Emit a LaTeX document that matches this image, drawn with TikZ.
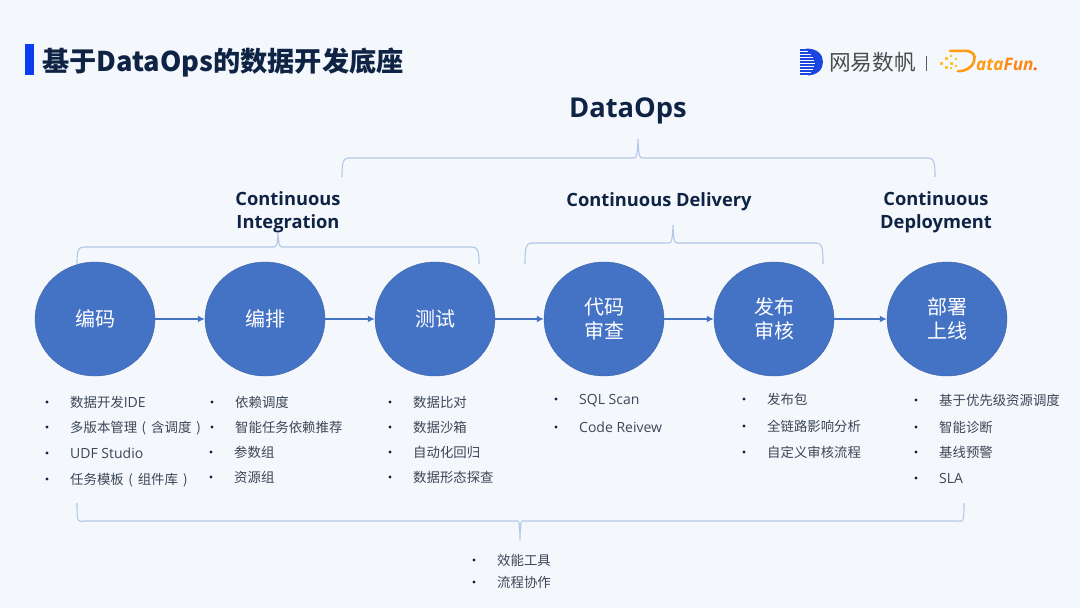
\documentclass[tikz,border=0pt]{standalone}
\usepackage{fontspec}
\setmainfont{Open Sans}
\newfontfamily\cjk{Noto Sans CJK SC}
\usetikzlibrary{arrows.meta,positioning,shapes.geometric}
\definecolor{bgc}{HTML}{F4F8FC}
\definecolor{navy}{HTML}{0F2345}
\definecolor{circ}{HTML}{4472C4}
\definecolor{brc}{HTML}{B4C7E7}
\definecolor{itemc}{HTML}{3C4658}
\definecolor{barc}{HTML}{0A3CF0}
\definecolor{logob}{HTML}{1A46E0}
\definecolor{dfa}{HTML}{FFC02A}
\definecolor{dfb}{HTML}{FF9A12}
\definecolor{dfc}{HTML}{FA5A1E}
\tikzset{
  stage/.style={ellipse,fill=circ,draw=circ!85!black,line width=.4pt,minimum width=120pt,minimum height=114pt,inner sep=0pt,text=white,font=\cjk\fontsize{20}{24}\selectfont,align=center},
  flow/.style={draw=circ,line width=2pt,-{Latex[length=7pt,width=7pt]}},
  brace/.style={draw=brc,line width=1.1pt},
  head/.style={text=navy,font=\bfseries\fontsize{18.3}{23}\selectfont,align=center,inner sep=0pt},
  item/.style={anchor=base west,text=itemc,inner sep=0pt,font=\cjk\fontsize{13.4}{16}\selectfont},
  dotm/.style={circle,fill=navy,inner sep=0pt,minimum size=3.4pt},
}
\newcommand{\lat}[1]{{\rmfamily\fontsize{14}{16}\selectfont #1}}
\newcommand{\itm}[5]{%
  \node[dotm] (b#1) at (#2,#4-5) {};
  \node[item] (t#1) at (#3,#4) {#5};}
\newcommand{\brc}[6]{%
  \draw[brace] (#1,#2) .. controls (#1,#3+4) and (#1+1,#3) .. (#1+7,#3) -- (#4-4,#3) .. controls (#4-1.5,#3) and (#4-0.5,#3-3) .. (#4,#5) .. controls (#4+0.5,#3-3) and (#4+1.5,#3) .. (#4+4,#3) -- (#6-7,#3) .. controls (#6-1,#3) and (#6,#3+4) .. (#6,#2);}
\begin{document}
\begin{tikzpicture}[x=1pt,y=-1pt]
\fill[bgc] (0,0) rectangle (1080,608);
\useasboundingbox (0,0) rectangle (1080,608);
% title
\fill[barc] (25,44) rectangle (33.5,74.5);
\node[anchor=base west,inner sep=0pt,text=navy,font=\cjk\bfseries\fontsize{27.2}{30}\selectfont] (title) at (42,71) {基于DataOps的数据开发底座};
% logo
\fill[logob] (806,48.5) .. controls (818,48.5) and (823,55) .. (823,62) .. controls (823,69) and (818,75.5) .. (806,75.5) -- cycle;
\foreach \yy/\xb in {50/808,53/811,56/813,59/814,62/815,65/814,68/813,71/811,74/808}{
  \draw[white,line width=.8pt] (800,\yy+1.4) -- (\xb,\yy+1.4);
  \draw[logob,line width=1.5pt] (800,\yy) -- (\xb-2,\yy);}
\node[anchor=base west,inner sep=0pt,text=black!70,font=\cjk\fontsize{21.7}{24}\selectfont] (nete) at (829,70) {网易数帆};
\draw[black!65,line width=1pt] (926,56) -- (926,71);
\foreach \xx/\yy/\ss in {940/61.5/3,945/57/3,945/66/3,950/54.5/2.4,950/61.5/3.4,950/67/2.4,955/58/2.4,955/65/2.4}
  \fill[dfa] (\xx,\yy) rectangle ++(\ss,\ss);
\draw[dfb,line width=2.6pt,line cap=round] (950,50.8) -- (964,50.8) .. controls (973,50.8) and (976,55) .. (974,61) .. controls (972,68) and (966,71) .. (958,71.2);
\node[anchor=base west,inner sep=0pt,font=\bfseries\itshape\fontsize{17.2}{20}\selectfont] (df) at (976,70) {\textcolor{dfb}{ata}\textcolor{dfb!70!dfc}{Fun}\textcolor{dfc}{.}};
% headings
\node[text=navy,font=\bfseries\fontsize{27.3}{30}\selectfont,inner sep=0pt] (dops) at (628,110.5) {DataOps};
\node[head] (ci) at (288,212.5) {Continuous\\Integration};
\node[head] (cd) at (659,201.5) {Continuous Delivery};
\node[head] (cdp) at (936,212.5) {Continuous\\Deployment};
% braces
\brc{342}{177}{158}{638}{139}{935}
\brc{77}{264}{247}{278}{233}{479}
\brc{525}{264}{243}{673}{225}{823}
\brc{77}{503}{521}{520}{540}{964}
% stages
\node[stage] (s1) at (95,319) {编码};
\node[stage] (s2) at (265,319) {编排};
\node[stage] (s3) at (435,319) {测试};
\node[stage] (s4) at (604,319) {代码\\审查};
\node[stage] (s5) at (774,319) {发布\\审核};
\node[stage] (s6) at (947,319) {部署\\上线};
\draw[flow] (s1) -- (s2);
\draw[flow] (s2) -- (s3);
\draw[flow] (s3) -- (s4);
\draw[flow] (s4) -- (s5);
\draw[flow] (s5) -- (s6);
% lists
\itm{a1}{47}{70}{407}{数据开发\lat{IDE}}
\itm{a2}{47}{70}{432}{多版本管理\kern4.5pt(\kern5pt 含调度\kern5pt)}
\itm{a3}{47}{70}{458}{\lat{UDF Studio}}
\itm{a4}{47}{70}{484}{任务模板\kern4.5pt(\kern5pt 组件库\kern5pt)}
\itm{b1}{212}{235}{407}{依赖调度}
\itm{b2}{212}{235}{432}{智能任务依赖推荐}
\itm{b3}{211}{234}{457}{参数组}
\itm{b4}{211}{234}{482}{资源组}
\itm{c1}{390}{413}{407}{数据比对}
\itm{c2}{390}{413}{432}{数据沙箱}
\itm{c3}{390}{413}{457}{自动化回归}
\itm{c4}{390}{413}{482}{数据形态探查}
\itm{d1}{556}{579}{404}{\lat{SQL Scan}}
\itm{d2}{556}{579}{432}{\lat{Code Reivew}}
\itm{e1}{744}{767}{404}{发布包}
\itm{e2}{744}{767}{431}{全链路影响分析}
\itm{e3}{744}{767}{457}{自定义审核流程}
\itm{f1}{916}{939}{405}{基于优先级资源调度}
\itm{f2}{916}{939}{432}{智能诊断}
\itm{f3}{916}{939}{457}{基线预警}
\itm{f4}{916}{939}{483}{\lat{SLA}}
\itm{g1}{474}{497}{565}{效能工具}
\itm{g2}{474}{497}{587}{流程协作}
\end{tikzpicture}
\end{document}
